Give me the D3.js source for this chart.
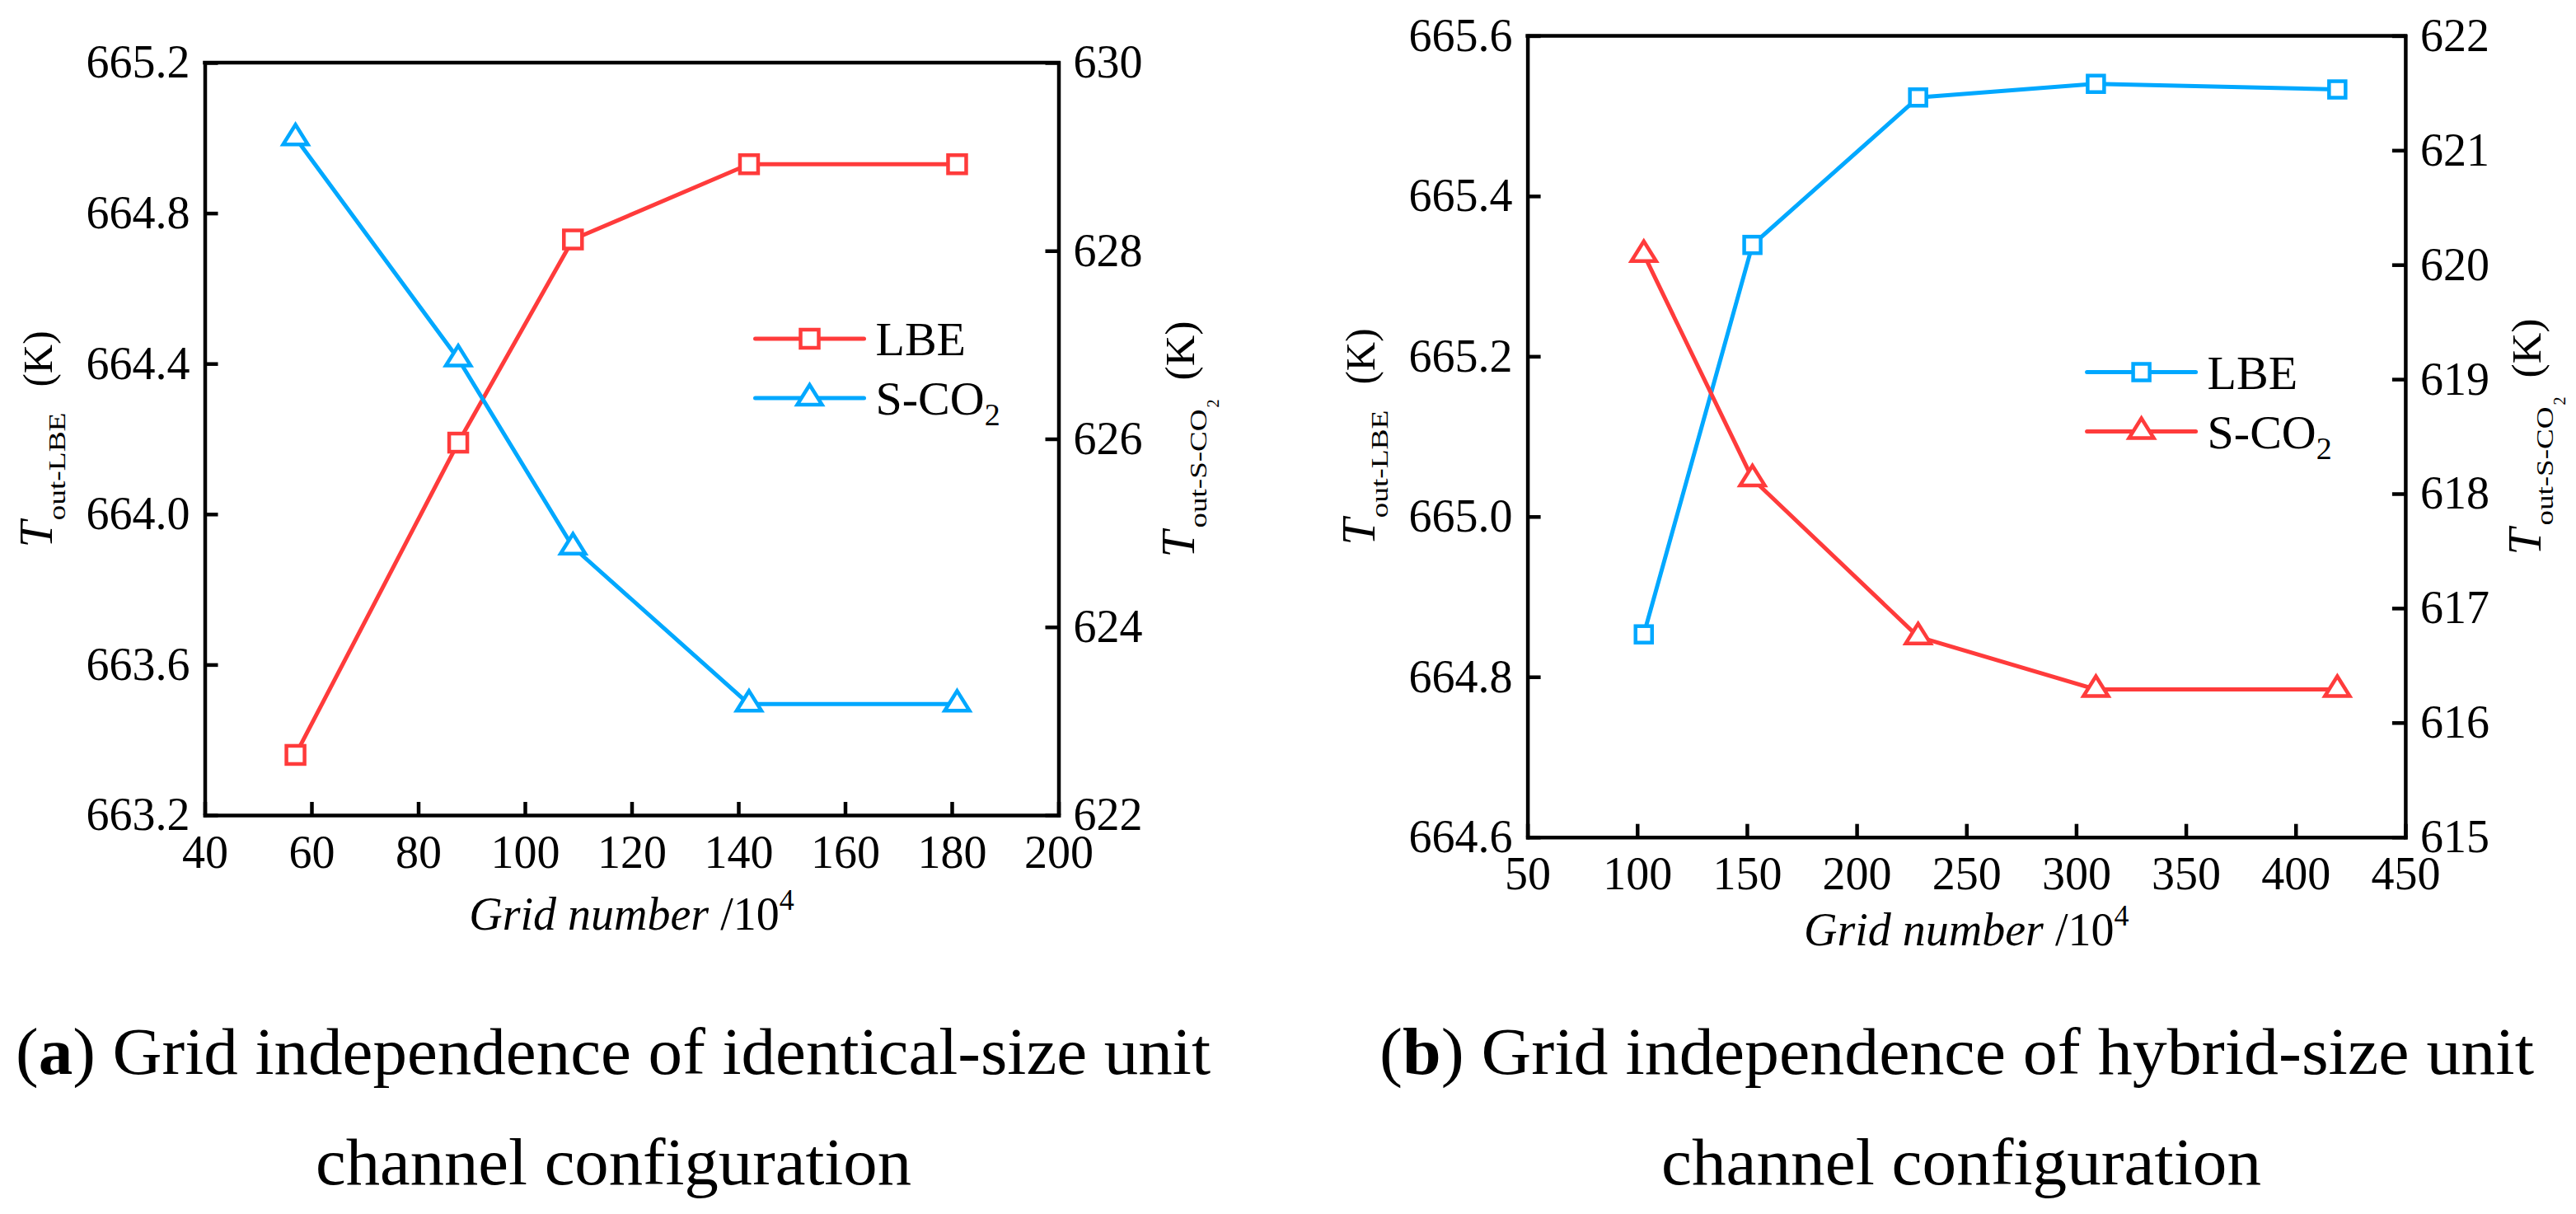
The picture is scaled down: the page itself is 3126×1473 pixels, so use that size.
<!DOCTYPE html>
<html>
<head>
<meta charset="utf-8">
<title>Grid independence</title>
<script src="https://cdn.jsdelivr.net/npm/d3@7"></script>
<style>
    body{ margin:0; background:#fff; }
    svg text{ font-family:"Liberation Serif","Times New Roman",serif; fill:#000; }
    .axis path, .axis line{ stroke:#000; stroke-width:4.5; }
</style>
</head>
<body>
<svg id="fig" width="3126" height="1473"></svg>
<script>
// ---- data ----
// (a) identical-size unit channels
var gridA = [57, 87.5, 109, 142, 181];
var lbeA  = [663.36, 664.19, 664.73, 664.93, 664.93];
var co2A  = [629.2, 626.85, 624.85, 623.18, 623.18];
var xTicksA  = [40, 60, 80, 100, 120, 140, 160, 180, 200];
var yLTicksA = [663.2, 663.6, 664.0, 664.4, 664.8, 665.2];
var yRTicksA = [622, 624, 626, 628, 630];

// (b) hybrid-size unit channels
var gridB = [103, 152.5, 228, 309, 419];
var lbeB  = [664.853, 665.339, 665.523, 665.54, 665.533];
var co2B  = [620.09, 618.13, 616.75, 616.29, 616.29];
var xTicksB  = [50, 100, 150, 200, 250, 300, 350, 400, 450];
var yLTicksB = [664.6, 664.8, 665.0, 665.2, 665.4, 665.6];
var yRTicksB = [615, 616, 617, 618, 619, 620, 621, 622];

var RED = "#ff3b3b", BLUE = "#00a8ff";
var SERIF = "'Liberation Serif', 'Times New Roman', serif";
var svg = d3.select("#fig");

function triPath(w, h){
    // flat triangle centred on its centroid
    return "M0," + (-2*h/3) + "L" + (w/2) + "," + (h/3) + "L" + (-w/2) + "," + (h/3) + "Z";
}

function drawMarker(g, type, x, y, color, sq){
    if(type == "square"){
        g.append("rect").attr("x", x - sq/2).attr("y", y - sq/2)
            .attr("width", sq).attr("height", sq)
            .attr("fill", "#fff").attr("stroke", color).attr("stroke-width", 4.5);
    }else{
        g.append("path").attr("d", triPath(30, 24))
            .attr("transform", "translate(" + x + "," + y + ")")
            .attr("fill", "#fff").attr("stroke", color).attr("stroke-width", 4.5)
            .attr("stroke-linejoin", "miter");
    }
}

function drawSeries(g, xs, ys, x, y, color, type, sq){
    var pts = xs.map(function(d, i){ return [x(d), y(ys[i])]; });
    g.append("path").attr("d", d3.line()(pts))
        .attr("fill", "none").attr("stroke", color).attr("stroke-width", 5)
        .attr("stroke-linejoin", "round");
    pts.forEach(function(p){ drawMarker(g, type, p[0], p[1], color, sq); });
}

// axis titles built from pieces inside a rotated group
function yTitle(bx, cy, co2){
    var g = svg.append("g").attr("transform", "translate(" + bx + "," + cy + ") rotate(-90)")
        .attr("font-family", SERIF);
    if(!co2){
        g.append("text").attr("x", -132).attr("font-size", 58).attr("font-style", "italic").text("T");
        g.append("text").attr("x", -99).attr("y", 16).attr("font-size", 30)
            .attr("textLength", 131).attr("lengthAdjust", "spacingAndGlyphs").text("out-LBE");
        g.append("text").attr("x", 63).attr("font-size", 50)
            .attr("textLength", 68).attr("lengthAdjust", "spacingAndGlyphs").text("(K)");
    }else{
        g.append("text").attr("x", -144).attr("font-size", 58).attr("font-style", "italic").text("T");
        g.append("text").attr("x", -108).attr("y", 15).attr("font-size", 29)
            .attr("textLength", 144).attr("lengthAdjust", "spacingAndGlyphs").text("out-S-CO");
        g.append("text").attr("x", 38).attr("y", 30).attr("font-size", 20).text("2");
        g.append("text").attr("x", 71).attr("font-size", 50)
            .attr("textLength", 72).attr("lengthAdjust", "spacingAndGlyphs").text("(K)");
    }
}

function styleAxis(sel){
    sel.attr("font-family", SERIF).attr("font-size", 56);
    sel.selectAll("text").attr("font-family", SERIF).attr("font-size", 56).attr("fill", "#000");
    sel.select(".domain").attr("stroke-linecap", "square");
}

function panel(o){
    var x  = d3.scaleLinear().domain(o.xDom).range([o.left, o.right]);
    var yL = d3.scaleLinear().domain(o.yLDom).range([o.bottom, o.top]);
    var yR = d3.scaleLinear().domain(o.yRDom).range([o.bottom, o.top]);
    var g = svg.append("g");

    g.append("g").attr("class", "axis").attr("transform", "translate(0," + o.bottom + ")")
        .call(d3.axisBottom(x).tickValues(o.xTicks).tickSizeInner(-16).tickSizeOuter(0).tickPadding(24).tickFormat(d3.format("d")))
        .call(styleAxis);
    g.append("g").attr("class", "axis").attr("transform", "translate(" + o.left + ",0)")
        .call(d3.axisLeft(yL).tickValues(o.yLTicks).tickSizeInner(-16).tickSizeOuter(0).tickPadding(18).tickFormat(d3.format(".1f")))
        .call(styleAxis);
    g.append("g").attr("class", "axis").attr("transform", "translate(" + o.right + ",0)")
        .call(d3.axisRight(yR).tickValues(o.yRTicks).tickSizeInner(-16).tickSizeOuter(0).tickPadding(18).tickFormat(d3.format("d")))
        .call(styleAxis);
    // top frame line
    g.append("line").attr("x1", o.left).attr("x2", o.right).attr("y1", o.top).attr("y2", o.top)
        .attr("stroke", "#000").attr("stroke-width", 4.5).attr("stroke-linecap", "square");

    drawSeries(g, o.grid, o.lbe, x, yL, o.lbeColor, "square", o.sq);
    drawSeries(g, o.grid, o.co2, x, yR, o.co2Color, "triangle", o.sq);

    // legend
    var lx0 = o.left + o.legX, lx1 = lx0 + 132;
    [[o.lbeColor, "square", o.legY], [o.co2Color, "triangle", o.legY + 72]].forEach(function(r){
        g.append("line").attr("x1", lx0).attr("x2", lx1).attr("y1", r[2]).attr("y2", r[2])
            .attr("stroke", r[0]).attr("stroke-width", 5).attr("stroke-linecap", "round");
        drawMarker(g, r[1], (lx0 + lx1)/2, r[2], r[0], o.sq);
    });
    g.append("text").attr("x", lx1 + 14).attr("y", o.legY + 20).attr("font-size", 58).text("LBE");
    var t2 = g.append("text").attr("x", lx1 + 14).attr("y", o.legY + 92).attr("font-size", 58);
    t2.append("tspan").text("S-CO");
    t2.append("tspan").attr("font-size", 38).attr("dy", 13).text("2");

    // x title
    var xt = g.append("text").attr("x", (o.left + o.right)/2).attr("y", o.xTitleY)
        .attr("text-anchor", "middle").attr("font-size", 56);
    xt.append("tspan").attr("font-style", "italic").text("Grid number ");
    xt.append("tspan").text("/10");
    xt.append("tspan").attr("font-size", 36).attr("dy", -24).text("4");

    yTitle(o.left - 186, (o.top + o.bottom)/2, false);
    yTitle(o.right + 164, (o.top + o.bottom)/2, true);

    // caption
    var c1 = svg.append("text").attr("x", o.capX1).attr("y", 1303).attr("font-size", 80)
        .attr("textLength", o.capLen1).attr("lengthAdjust", "spacingAndGlyphs");
    c1.append("tspan").text("(");
    c1.append("tspan").attr("font-weight", "bold").text(o.letter);
    c1.append("tspan").text(") " + o.capText);
    svg.append("text").attr("x", o.capX2).attr("y", 1437).attr("font-size", 80)
        .attr("textLength", o.capLen2).attr("lengthAdjust", "spacingAndGlyphs")
        .text("channel configuration");
}

panel({
    left: 248.5, right: 1284.5, top: 76, bottom: 989,
    xDom: [40, 200], yLDom: [663.2, 665.2], yRDom: [622, 630],
    xTicks: xTicksA, yLTicks: yLTicksA, yRTicks: yRTicksA,
    grid: gridA, lbe: lbeA, co2: co2A,
    lbeColor: RED, co2Color: BLUE, sq: 22,
    legX: 668, legY: 411, xTitleY: 1128,
    letter: "a", capText: "Grid independence of identical-size unit",
    capX1: 19, capLen1: 1450, capX2: 383, capLen2: 723
});

panel({
    left: 1853.6, right: 2918.9, top: 43.4, bottom: 1015.7,
    xDom: [50, 450], yLDom: [664.6, 665.6], yRDom: [615, 622],
    xTicks: xTicksB, yLTicks: yLTicksB, yRTicks: yRTicksB,
    grid: gridB, lbe: lbeB, co2: co2B,
    lbeColor: BLUE, co2Color: RED, sq: 20,
    legX: 679, legY: 451.5, xTitleY: 1147,
    letter: "b", capText: "Grid independence of hybrid-size unit",
    capX1: 1674, capLen1: 1401, capX2: 2016, capLen2: 728
});
</script>
</body>
</html>
